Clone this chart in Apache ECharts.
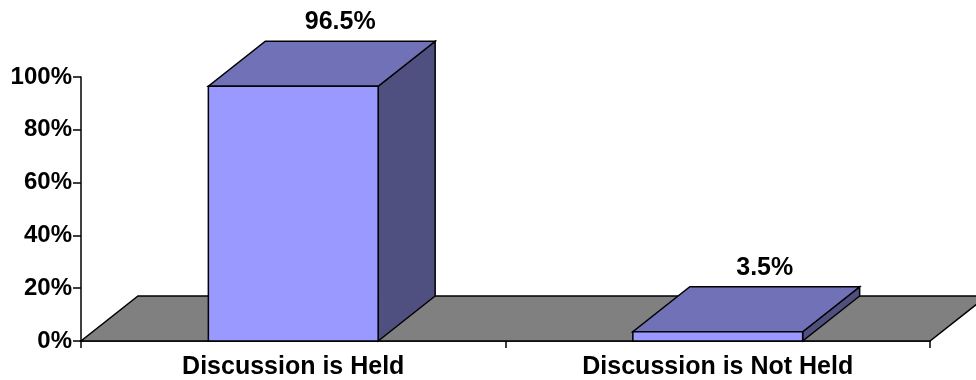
<!DOCTYPE html>
<html>
<head>
<meta charset="utf-8">
<script src="https://cdn.jsdelivr.net/npm/echarts@6/dist/echarts.min.js"></script>
<style>
  html, body { margin: 0; padding: 0; background: #ffffff; }
  #chart { width: 976px; height: 380px; }
</style>
</head>
<body>
<div id="chart"></div>
<script>
// Share of respondents by whether a discussion is held
const categories = ['Discussion is Held', 'Discussion is Not Held'];
const shares = [96.5, 3.5];
const valueLabels = ['96.5%', '3.5%'];

// Value axis range
const axisMin = 0;
const axisMax = 100;
const axisStep = 20;

// Oblique projection offset for the 3D look (pixels)
const DEPTH_X = 57;
const DEPTH_Y = -45;
const BAR_FRACTION = 0.40;

const FONT = '"Liberation Sans", Arial, sans-serif';
const EDGE = { stroke: '#000000', lineWidth: 1.5, lineJoin: 'miter' };

const chart = echarts.init(document.getElementById('chart'), null, { renderer: 'canvas' });

function renderFloor(params, api) {
  const band = api.size([1, 0])[0];
  const first = api.coord([0, axisMin]);
  const last = api.coord([categories.length - 1, axisMin]);
  const left = first[0] - band / 2;
  const right = last[0] + band / 2;
  const y = first[1];
  return {
    type: 'polygon',
    shape: { points: [[left, y], [right, y], [right + DEPTH_X, y + DEPTH_Y], [left + DEPTH_X, y + DEPTH_Y]] },
    style: Object.assign({ fill: '#808080' }, EDGE)
  };
}

function renderBar(params, api) {
  const idx = api.value(0);
  const v = api.value(1);
  const base = api.coord([idx, axisMin]);
  const top = api.coord([idx, v]);
  const band = api.size([1, 0])[0];
  const w = band * BAR_FRACTION;
  const x0 = base[0] - w / 2;
  const x1 = base[0] + w / 2;
  const yb = base[1];
  const yt = top[1];
  return {
    type: 'group',
    children: [
      {
        type: 'polygon',
        shape: { points: [[x1, yt], [x1, yb], [x1 + DEPTH_X, yb + DEPTH_Y], [x1 + DEPTH_X, yt + DEPTH_Y]] },
        style: Object.assign({ fill: '#4F4F80' }, EDGE)
      },
      {
        type: 'polygon',
        shape: { points: [[x0, yt], [x1, yt], [x1 + DEPTH_X, yt + DEPTH_Y], [x0 + DEPTH_X, yt + DEPTH_Y]] },
        style: Object.assign({ fill: '#7171B8' }, EDGE)
      },
      {
        type: 'rect',
        shape: { x: x0, y: yt, width: w, height: yb - yt },
        style: Object.assign({ fill: '#9999FF' }, EDGE)
      },
      {
        type: 'text',
        x: base[0] + 47,
        y: yt + DEPTH_Y - 19,
        style: {
          text: valueLabels[idx],
          fill: '#000000',
          font: 'bold 25px ' + FONT,
          align: 'center',
          verticalAlign: 'middle'
        }
      }
    ]
  };
}

chart.setOption({
  animation: false,
  backgroundColor: '#ffffff',
  grid: { left: 81, right: 46, top: 77, bottom: 38, containLabel: false },
  xAxis: {
    type: 'category',
    data: categories,
    boundaryGap: true,
    axisLine: { show: true, lineStyle: { color: '#000000', width: 1.5 } },
    axisTick: { show: true, length: 7, lineStyle: { color: '#000000', width: 1.5 } },
    axisLabel: { color: '#000000', fontFamily: FONT, fontWeight: 'bold', fontSize: 25, margin: 14 },
    splitLine: { show: false }
  },
  yAxis: {
    type: 'value',
    min: axisMin,
    max: axisMax,
    interval: axisStep,
    axisLine: { show: true, lineStyle: { color: '#000000', width: 1.5 } },
    axisTick: { show: true, length: 8, lineStyle: { color: '#000000', width: 1.5 } },
    axisLabel: { color: '#000000', fontFamily: FONT, fontWeight: 'bold', fontSize: 24, margin: 9, formatter: '{value}%' },
    splitLine: { show: false }
  },
  series: [
    {
      type: 'custom',
      name: 'floor',
      clip: false,
      z: 1,
      data: [[0, 0]],
      renderItem: renderFloor,
      silent: true
    },
    {
      type: 'custom',
      name: 'share',
      clip: false,
      z: 2,
      encode: { x: 0, y: 1 },
      data: shares.map((v, i) => [i, v]),
      renderItem: renderBar
    }
  ]
});
</script>
</body>
</html>
